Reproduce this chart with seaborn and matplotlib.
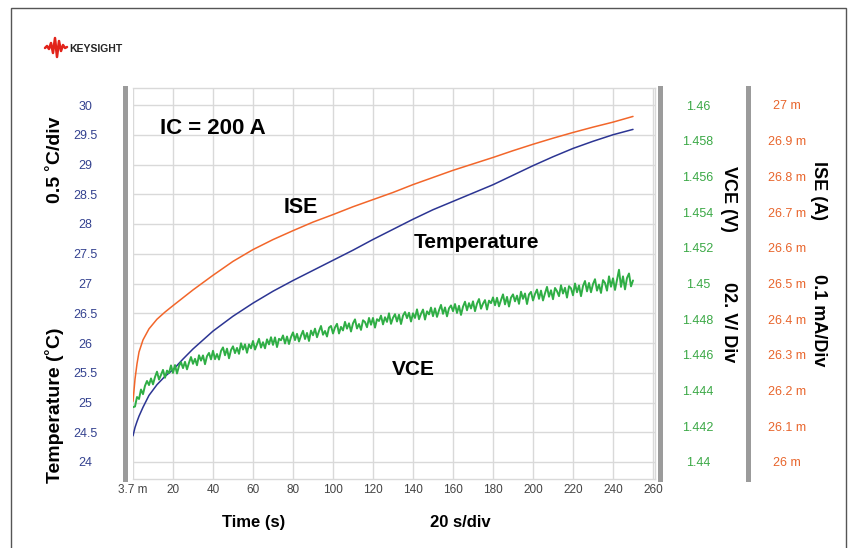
import numpy as np
import matplotlib
matplotlib.use("Agg")
import matplotlib.pyplot as plt
import seaborn as sns
from matplotlib.lines import Line2D
from matplotlib.patches import Rectangle

# ----------------------------------------------------------
# Data
# ----------------------------------------------------------
time_s = [0, 1, 2, 3, 5, 8, 12, 16, 20, 25, 30, 40, 50, 60, 70, 80, 90, 100,
          110, 120, 130, 140, 150, 160, 170, 180, 190, 200, 210, 220, 230, 240, 250]

temperature_c = [24.44, 24.58, 24.68, 24.77, 24.92, 25.12, 25.30, 25.44, 25.55,
                 25.73, 25.90, 26.20, 26.45, 26.67, 26.87, 27.05, 27.22, 27.39,
                 27.56, 27.74, 27.91, 28.08, 28.24, 28.38, 28.52, 28.66, 28.82,
                 28.98, 29.13, 29.27, 29.39, 29.50, 29.59]

ise_a = [0.026170, 0.026232, 0.026275, 0.026308, 0.026342, 0.026373, 0.026400,
         0.026420, 0.026438, 0.026460, 0.026482, 0.026523, 0.026562, 0.026595,
         0.026623, 0.026648, 0.026672, 0.026693, 0.026715, 0.026735, 0.026755,
         0.026777, 0.026797, 0.026817, 0.026835, 0.026853, 0.026872, 0.026890,
         0.026907, 0.026923, 0.026938, 0.026952, 0.026968]

# VCE sampled once per second
vce_time_s = np.arange(0, 251, 1.0)
vce_v = [
    1.44307, 1.44311, 1.44364, 1.44353, 1.44406, 1.44380, 1.44427, 1.44454, 1.44431, 1.44468,
    1.44435, 1.44476, 1.44506, 1.44462, 1.44488, 1.44516, 1.44472, 1.44512, 1.44498, 1.44541,
    1.44499, 1.44543, 1.44496, 1.44538, 1.44559, 1.44526, 1.44561, 1.44519, 1.44556, 1.44588,
    1.44550, 1.44578, 1.44542, 1.44598, 1.44568, 1.44597, 1.44548, 1.44593, 1.44611, 1.44575,
    1.44623, 1.44576, 1.44605, 1.44574, 1.44622, 1.44642, 1.44598, 1.44635, 1.44581, 1.44627,
    1.44648, 1.44610, 1.44639, 1.44606, 1.44665, 1.44630, 1.44659, 1.44612, 1.44659, 1.44637,
    1.44678, 1.44630, 1.44659, 1.44690, 1.44641, 1.44671, 1.44637, 1.44687, 1.44659, 1.44699,
    1.44656, 1.44698, 1.44644, 1.44690, 1.44682, 1.44709, 1.44664, 1.44703, 1.44661, 1.44700,
    1.44726, 1.44683, 1.44718, 1.44675, 1.44708, 1.44735, 1.44689, 1.44723, 1.44678, 1.44736,
    1.44710, 1.44747, 1.44699, 1.44733, 1.44762, 1.44713, 1.44734, 1.44703, 1.44753, 1.44762,
    1.44720, 1.44754, 1.44774, 1.44720, 1.44757, 1.44737, 1.44785, 1.44747, 1.44777, 1.44731,
    1.44777, 1.44799, 1.44748, 1.44773, 1.44740, 1.44794, 1.44784, 1.44755, 1.44807, 1.44769,
    1.44807, 1.44753, 1.44800, 1.44790, 1.44820, 1.44771, 1.44811, 1.44785, 1.44833, 1.44774,
    1.44808, 1.44828, 1.44787, 1.44825, 1.44773, 1.44820, 1.44840, 1.44806, 1.44836, 1.44787,
    1.44833, 1.44807, 1.44855, 1.44800, 1.44830, 1.44854, 1.44798, 1.44844, 1.44827, 1.44865,
    1.44817, 1.44861, 1.44813, 1.44850, 1.44880, 1.44830, 1.44866, 1.44816, 1.44861, 1.44877,
    1.44845, 1.44885, 1.44835, 1.44875, 1.44824, 1.44870, 1.44898, 1.44850, 1.44890, 1.44860,
    1.44900, 1.44845, 1.44887, 1.44913, 1.44859, 1.44887, 1.44907, 1.44854, 1.44904, 1.44890,
    1.44922, 1.44878, 1.44920, 1.44872, 1.44907, 1.44939, 1.44883, 1.44925, 1.44871, 1.44921,
    1.44939, 1.44900, 1.44932, 1.44886, 1.44954, 1.44914, 1.44944, 1.44885, 1.44939, 1.44953,
    1.44905, 1.44941, 1.44966, 1.44914, 1.44960, 1.44905, 1.44945, 1.44981, 1.44926, 1.44962,
    1.44912, 1.44975, 1.44957, 1.44929, 1.44990, 1.44944, 1.44976, 1.44921, 1.44985, 1.44973,
    1.44934, 1.45000, 1.44951, 1.44989, 1.44929, 1.44986, 1.45014, 1.44956, 1.45003, 1.44951,
    1.44997, 1.45024, 1.44960, 1.44994, 1.44947, 1.45019, 1.45003, 1.44960, 1.45040, 1.44982,
    1.45029, 1.44964, 1.45020, 1.45077, 1.44981, 1.45040, 1.44967, 1.45031, 1.45056, 1.44984,
    1.45017,
]

x_ticks = [0.0037, 20, 40, 60, 80, 100, 120, 140, 160, 180, 200, 220, 240, 260]
x_tick_labels = ["3.7 m", "20", "40", "60", "80", "100", "120", "140", "160",
                 "180", "200", "220", "240", "260"]
temp_ticks = [24, 24.5, 25, 25.5, 26, 26.5, 27, 27.5, 28, 28.5, 29, 29.5, 30]
temp_tick_labels = ["24", "24.5", "25", "25.5", "26", "26.5", "27", "27.5",
                    "28", "28.5", "29", "29.5", "30"]
vce_ticks = [1.44, 1.442, 1.444, 1.446, 1.448, 1.45, 1.452, 1.454, 1.456, 1.458, 1.46]
vce_tick_labels = ["1.44", "1.442", "1.444", "1.446", "1.448", "1.45", "1.452",
                   "1.454", "1.456", "1.458", "1.46"]
ise_ticks = [0.026, 0.0261, 0.0262, 0.0263, 0.0264, 0.0265, 0.0266, 0.0267,
             0.0268, 0.0269, 0.027]
ise_tick_labels = ["26 m", "26.1 m", "26.2 m", "26.3 m", "26.4 m", "26.5 m",
                   "26.6 m", "26.7 m", "26.8 m", "26.9 m", "27 m"]

# ----------------------------------------------------------
# Style
# ----------------------------------------------------------
BLUE = "#2c3593"
ORANGE = "#f2662a"
GREEN = "#2fae45"
NAVY_TXT = "#33418f"
GREEN_TXT = "#3aa845"
ORANGE_TXT = "#e8652c"
GRID = "#d9d9d9"
BAR = "#9b9b9b"

sns.set_style("white")
plt.rcParams["font.family"] = ["Liberation Sans", "DejaVu Sans"]

W, H = 855, 548
PT = 72 / 100  # pixels -> points


def fx(x):
    return x / W


def fy(y):
    return 1 - y / H


fig = plt.figure(figsize=(W / 100, H / 100), dpi=100)
ax = fig.add_axes([fx(133), fy(479), (655 - 133) / W, (479 - 88) / H])
ax2 = ax.twinx()
ax3 = ax.twinx()

# curves
sns.lineplot(x=vce_time_s, y=vce_v, ax=ax2, color=GREEN, linewidth=1.4)
sns.lineplot(x=time_s, y=ise_a, ax=ax3, color=ORANGE, linewidth=1.1)
sns.lineplot(x=time_s, y=temperature_c, ax=ax, color=BLUE, linewidth=1.1)

# scales (all three share the same grid)
t_lo, t_hi = 24 - 17 / 59.5, 30 + 17 / 59.5
ax.set_xlim(0, 261)
ax.set_ylim(t_lo, t_hi)
ax2.set_ylim(1.44 + (t_lo - 24) / 300, 1.44 + (t_hi - 24) / 300)
ax3.set_ylim(0.026 + (t_lo - 24) / 6000, 0.026 + (t_hi - 24) / 6000)

for a in (ax, ax2, ax3):
    a.set_xlabel("")
    a.set_ylabel("")

ax.set_xticks(x_ticks, x_tick_labels)
ax.set_yticks(temp_ticks, temp_tick_labels)
ax2.set_yticks(vce_ticks, vce_tick_labels)
ax3.set_yticks(ise_ticks, ise_tick_labels)

ax.grid(True, color=GRID, linewidth=1)
ax.set_axisbelow(True)

# spines
for side in ("top", "bottom", "right"):
    ax.spines[side].set_color(GRID)
    ax.spines[side].set_linewidth(1)
ax.spines["left"].set_position(("outward", 8 * PT))
ax.spines["left"].set_color(BAR)
ax.spines["left"].set_linewidth(5 * PT)

for a, off in ((ax2, 5), (ax3, 93)):
    for side in ("top", "bottom", "left"):
        a.spines[side].set_visible(False)
    a.spines["right"].set_position(("outward", off * PT))
    a.spines["right"].set_color(BAR)
    a.spines["right"].set_linewidth(5 * PT)

# tick labels
ax.tick_params(axis="x", length=0, pad=5 * PT, labelsize=8.5, labelcolor="#444444")
ax.tick_params(axis="y", length=0, pad=40 * PT, labelsize=9, labelcolor=NAVY_TXT)
ax2.tick_params(axis="y", length=0, pad=38 * PT, labelsize=9, labelcolor=GREEN_TXT)
ax3.tick_params(axis="y", length=0, pad=39 * PT, labelsize=9, labelcolor=ORANGE_TXT)
for a in (ax, ax2, ax3):
    for lbl in a.get_yticklabels():
        lbl.set_horizontalalignment("center")

# axis titles
bold = dict(fontweight="bold", color="black", ha="center", va="center")
fig.text(fx(254), fy(527), "Time (s)", fontsize=12, **{**bold, "va": "baseline"})
fig.text(fx(460), fy(527), "20 s/div", fontsize=12, **{**bold, "va": "baseline"})
fig.text(fx(55), fy(160), "0.5 ˚C/div", fontsize=14, rotation=90, **bold)
fig.text(fx(54), fy(405), "Temperature (˚C)", fontsize=14, rotation=90, **bold)
fig.text(fx(728), fy(199), "VCE (V)", fontsize=13, rotation=270, **bold)
fig.text(fx(728), fy(322), "02. V/ Div", fontsize=13, rotation=270, **bold)
fig.text(fx(818), fy(191), "ISE (A)", fontsize=13, rotation=270, **bold)
fig.text(fx(818), fy(320), "0.1 mA/Div", fontsize=13, rotation=270, **bold)

# in-plot annotations
note = dict(fontweight="bold", color="black", va="baseline")
fig.text(fx(160), fy(134), "IC = 200 A", fontsize=16, ha="left", **note)
fig.text(fx(301), fy(213), "ISE", fontsize=15.5, ha="center", **note)
fig.text(fx(476), fy(248), "Temperature", fontsize=15, ha="center", **note)
fig.text(fx(413), fy(375), "VCE", fontsize=15, ha="center", **note)

# Keysight logo
wave_x = [45, 47, 49, 51, 53, 55, 57, 59, 61, 63, 65, 67]
wave_y = [48, 46, 49, 43, 53, 38, 57, 41, 51, 45, 48, 47]
fig.add_artist(Line2D([fx(v) for v in wave_x], [fy(v) for v in wave_y],
                      transform=fig.transFigure, color="#e2231a", linewidth=1.8))
fig.text(fx(69), fy(52), "KEYSIGHT", fontsize=7.5, fontweight="bold",
         va="baseline", ha="left")

# outer frame
fig.add_artist(Rectangle((fx(11), -0.05), fx(846) - fx(11), fy(8) + 0.05,
                         transform=fig.transFigure, fill=False,
                         edgecolor="#555555", linewidth=1))

fig.savefig("out.png", dpi=100)
